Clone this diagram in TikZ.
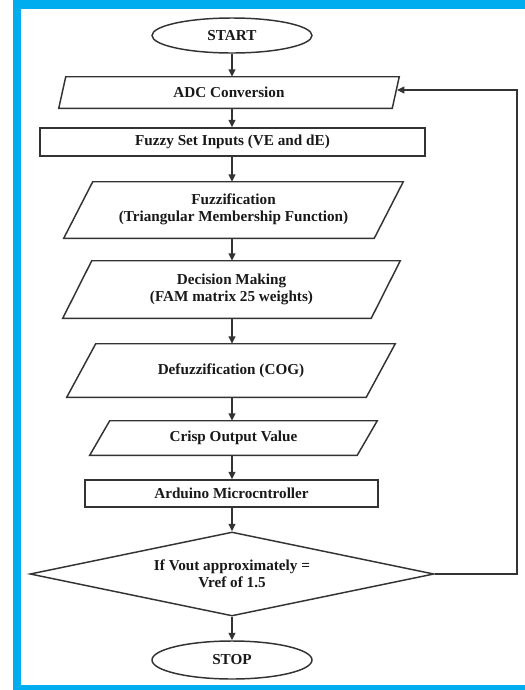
\documentclass[tikz,border=0pt]{standalone}
\usepackage{fontspec}
\setmainfont{Liberation Serif}
\usetikzlibrary{shapes.geometric,arrows.meta,calc}
\definecolor{frameblue}{HTML}{00AEEF}
\definecolor{linegray}{HTML}{333333}
\begin{document}
\begin{tikzpicture}[x=0.75pt,y=-0.75pt,
  every node/.style={font=\fontsize{11.4}{12.8}\selectfont\bfseries, align=center, inner sep=0pt, text=black!90},
  frame/.style={draw=linegray, line width=1.1pt},
  hold/.style={},
  arr/.style={draw=linegray, line width=1.1pt, -{Triangle[length=5.5pt,width=5pt]}},
  term/.style={ellipse, frame, minimum width=160*0.75pt},
  boxnode/.style={rectangle, frame},
  decide/.style={diamond, frame, aspect=4.8, minimum width=404*0.75pt, minimum height=84*0.75pt}
]
\useasboundingbox (0,0) rectangle (525,690);
\fill[white] (0,0) rectangle (525,690);
\fill[frameblue] (13,0) rectangle (525,9);
\fill[frameblue] (13,0) rectangle (21,690);
\fill[frameblue] (13,685) rectangle (525,690);

\node[term, minimum height=35*0.75pt] (start) at (232,35.5) {START};
\node[hold, minimum width=340*0.75pt, minimum height=31*0.75pt] (adc) at (229,92.5) {ADC Conversion};
\node[boxnode, minimum width=385*0.75pt, minimum height=28*0.75pt] (fsi) at (232.5,142) {Fuzzy Set Inputs (VE and dE)};
\node[hold, minimum width=339*0.75pt, minimum height=56*0.75pt] (fuz) at (233.5,210) {\raisebox{-2pt}{\begin{tabular}{@{}c@{}}Fuzzification\\(Triangular Membership Function)\end{tabular}}};
\node[hold, minimum width=337*0.75pt, minimum height=57*0.75pt] (dec) at (231.5,289.5) {Decision Making\\(FAM matrix 25 weights)};
\node[hold, minimum width=328*0.75pt, minimum height=53*0.75pt] (dfz) at (231,370.5) {Defuzzification (COG)};
\node[hold, minimum width=287*0.75pt, minimum height=34*0.75pt] (crisp) at (233.5,438) {Crisp Output Value};
\node[boxnode, minimum width=293*0.75pt, minimum height=27*0.75pt] (ard) at (231.5,493.5) {Arduino Microcntroller};
\node[decide] (dia) at (232,574) {If Vout approximately =\\Vref of 1.5};
\node[term, minimum height=38*0.75pt] (stop) at (232,660) {STOP};

% parallelogram outlines
\foreach \n/\s in {adc/7, fuz/29, dec/29, dfz/29, crisp/20}{
  \draw[frame, line join=miter] ($(\n.north west)+(\s,0)$) -- (\n.north east) -- ($(\n.south east)-(\s,0)$) -- (\n.south west) -- cycle;
}

\coordinate (axis) at (232,0);
\draw[arr] (start.south -| axis) -- (adc.north -| axis);
\draw[arr] (adc.south -| axis) -- (fsi.north -| axis);
\draw[arr] (fsi.south -| axis) -- (fuz.north -| axis);
\draw[arr] (fuz.south -| axis) -- (dec.north -| axis);
\draw[arr] (dec.south -| axis) -- (dfz.north -| axis);
\draw[arr] (dfz.south -| axis) -- (crisp.north -| axis);
\draw[arr] (crisp.south -| axis) -- (ard.north -| axis);
\draw[arr] (ard.south -| axis) -- (dia.north);
\draw[arr] (dia.south) -- (stop.north);

\coordinate (adcin) at (397,90);
\coordinate (corner) at (517,90);
\draw[arr] (dia.east) -| (corner) -- (adcin);
\end{tikzpicture}
\end{document}
